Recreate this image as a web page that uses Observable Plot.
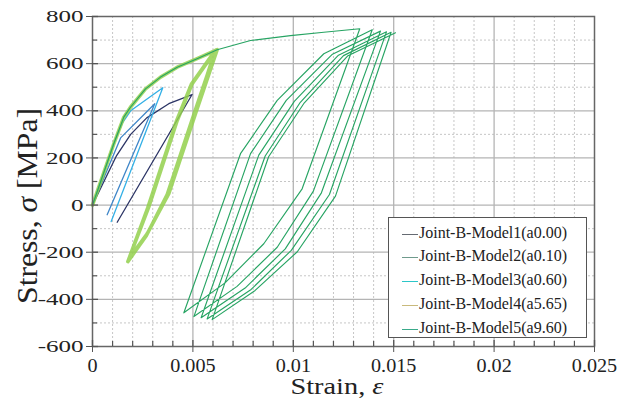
<!DOCTYPE html>
<html><head><meta charset="utf-8">
<script src="https://cdn.jsdelivr.net/npm/d3@7"></script>
<script src="https://cdn.jsdelivr.net/npm/@observablehq/plot@0.6"></script>
<style>
html,body{margin:0;padding:0;background:#fff;}
#wrap{position:relative;width:631px;height:405px;overflow:hidden;background:#fff;}
#legend{position:absolute;left:388px;top:217px;width:199px;height:121px;border:1px solid #555;background:#fff;box-sizing:border-box;font-family:"Liberation Serif","Times New Roman",serif;font-size:16px;color:#222;}
.row{position:absolute;left:0;height:20px;line-height:20px;white-space:nowrap;}
.sw{display:inline-block;width:16px;height:0;border-top:1.5px solid;vertical-align:middle;margin-left:13px;margin-right:1px;}
</style></head><body><div id="wrap"></div>
<script>
// ---------- data ----------
const seriesNames = ["Joint-B-Model1(a0.00)","Joint-B-Model2(a0.10)","Joint-B-Model3(a0.60)","Joint-B-Model4(a5.65)","Joint-B-Model5(a9.60)"];
const lineColors = ["#2c3566","#3f86c8","#33b0e6","#93d04c","#27a463"];
const legendColors = ["#656a72","#6f9a8c","#2cc6c8","#c9ba7c","#3aaa8a"];

const model1Strain = [0, 0.0012, 0.0019, 0.0027, 0.0038, 0.00496, 0.00123];
const model1Stress = [0, 210, 300, 370, 430, 469, -73];

const model2Strain = [0, 0.0014, 0.0031, 0.00073];
const model2Stress = [0, 285, 430, -41];

const model3Strain = [0, 0.00106, 0.0015, 0.0019, 0.0035, 0.00093];
const model3Stress = [0, 260, 350, 400, 498, -70];

const model4Strain = [0, 0.00106, 0.00156, 0.00189, 0.00264, 0.00339, 0.00422, 0.00521, 0.00621,
  0.00513, 0.0038, 0.00272, 0.00181, 0.0028, 0.00422, 0.00496, 0.00613,
  0.00505, 0.00372, 0.00268, 0.00176, 0.00275, 0.00418, 0.00492, 0.0061,
  0.00509, 0.00376, 0.0027, 0.00178, 0.00278, 0.0042, 0.00494, 0.00612];
const model4Stress = [0, 260, 373, 415, 493, 543, 585, 621, 659,
  388, 48, -122, -228, -9, 359, 514, 656,
  385, 45, -130, -240, -12, 356, 512, 655,
  386, 46, -126, -236, -10, 358, 513, 656];

const model5Strain = [0, 0.00106, 0.00156, 0.00189, 0.00264, 0.00339, 0.00422, 0.00521, 0.00621, 0.00787, 0.00986, 0.01152, 0.01331,
  0.01044, 0.00853, 0.0066, 0.00455, 0.00737, 0.0092, 0.01152, 0.01393,
  0.0110, 0.0092, 0.0072, 0.00505, 0.00787, 0.00965, 0.01195, 0.01434,
  0.0114, 0.0096, 0.0076, 0.00541, 0.00828, 0.01005, 0.01225, 0.01464,
  0.0118, 0.0099, 0.0079, 0.00571, 0.0086, 0.01035, 0.0125, 0.01487,
  0.0121, 0.0102, 0.0081, 0.00596, 0.00877, 0.01055, 0.0127, 0.01509];
const model5Stress = [0, 260, 373, 415, 493, 543, 585, 621, 659, 698, 719, 733, 748,
  69, -164, -330, -457, 218, 444, 642, 744,
  59, -179, -345, -473, 218, 444, 640, 738,
  52, -186, -352, -478, 212, 440, 636, 735,
  45, -192, -358, -483, 208, 436, 634, 733,
  38, -198, -362, -486, 205, 434, 632, 731];

const xMajor = [0, 0.005, 0.01, 0.015, 0.02, 0.025];
const xTickLabels = ["0", "0.005", "0.01", "0.015", "0.02", "0.025"];
const yMajor = [-600, -400, -200, 0, 200, 400, 600, 800];
const yTickLabels = ["-600", "-400", "-200", "0", "200", "400", "600", "800"];
const xMinor = [0.001,0.002,0.003,0.004,0.006,0.007,0.008,0.009,0.011,0.012,0.013,0.014,0.016,0.017,0.018,0.019,0.021,0.022,0.023,0.024];
const yMinor = [-500, -300, -100, 100, 300, 500, 700];
const xGrid = [0.005, 0.01, 0.015, 0.02];
const yGrid = [-400, -200, 0, 200, 400, 600];

// ---------- build ----------
const rows = (xs, ys) => xs.map((e, i) => ({e, s: ys[i]}));
const m1 = rows(model1Strain, model1Stress);
const m2 = rows(model2Strain, model2Stress);
const m3 = rows(model3Strain, model3Stress);
const m4 = rows(model4Strain, model4Stress);
const m5 = rows(model5Strain, model5Stress);

const W = 631, H = 405, ML = 92, MR = 37, MT = 16, MB = 59;
const FW = W - ML - MR, FH = H - MT - MB;
const serif = '"Liberation Serif","Times New Roman",serif';

const chart = Plot.plot({
  width: W, height: H,
  marginLeft: ML, marginRight: MR, marginTop: MT, marginBottom: MB,
  style: {fontFamily: serif, background: "#fff", color: "#222"},
  x: {domain: [0, 0.025]},
  y: {domain: [-600, 800]},
  marks: [
    Plot.ruleX(xMinor, {stroke: "#c6c6c6", strokeDasharray: "2,2", strokeWidth: 1}),
    Plot.ruleY(yMinor, {stroke: "#c6c6c6", strokeDasharray: "2,2", strokeWidth: 1}),
    Plot.ruleX(xGrid, {stroke: "#b4b4b4", strokeWidth: 1.3}),
    Plot.ruleY(yGrid, {stroke: "#b4b4b4", strokeWidth: 1.3}),
    Plot.line(m1, {x: "e", y: "s", stroke: lineColors[0], strokeWidth: 1.3}),
    Plot.line(m2, {x: "e", y: "s", stroke: lineColors[1], strokeWidth: 1.3}),
    Plot.line(m3, {x: "e", y: "s", stroke: lineColors[2], strokeWidth: 1.3}),
    Plot.line(m4, {x: "e", y: "s", stroke: lineColors[3], strokeWidth: 3.6, strokeOpacity: 0.85}),
    Plot.line(m5, {x: "e", y: "s", stroke: lineColors[4], strokeWidth: 1.15}),
    Plot.frame({stroke: "#666", strokeWidth: 1.5}),
    Plot.tickY(yMajor, {y: d => d, insetRight: FW - 6, stroke: "#555", strokeWidth: 1.3}),
    Plot.tickY(yMinor, {y: d => d, insetRight: FW - 5, stroke: "#555", strokeWidth: 1.2}),
    Plot.tickX(xMajor, {x: d => d, insetTop: FH - 6, stroke: "#555", strokeWidth: 1.3}),
    Plot.tickX(xMinor, {x: d => d, insetTop: FH - 5, stroke: "#555", strokeWidth: 1.2}),
    Plot.axisY(yMajor, {tickSize: 6, tickPadding: 3, fontSize: 17.5, stroke: "#555",
      tickFormat: d => yTickLabels[yMajor.indexOf(d)], label: null}),
    Plot.axisX(xMajor, {tickSize: 6, tickPadding: 7, fontSize: 18, stroke: "#555",
      tickFormat: d => xTickLabels[xMajor.indexOf(d)], label: null})
  ]
});

const wrap = document.getElementById("wrap");
wrap.appendChild(chart);
const svg = d3.select(chart);

// stretch tick labels horizontally like the reference
svg.selectAll('g[aria-label="y-axis tick label"] text').each(function() {
  const L = this.getComputedTextLength();
  this.setAttribute("textLength", L * 1.43);
  this.setAttribute("lengthAdjust", "spacingAndGlyphs");
  this.setAttribute("fill", "#222");
});
svg.selectAll('g[aria-label="x-axis tick label"] text').each(function() {
  const L = this.getComputedTextLength();
  this.setAttribute("textLength", L * 1.12);
  this.setAttribute("lengthAdjust", "spacingAndGlyphs");
  this.setAttribute("fill", "#222");
});

// axis titles
const yl = svg.append("text")
  .attr("transform", "translate(37,206) rotate(-90) scale(1,1.15)")
  .attr("text-anchor", "middle")
  .attr("font-family", serif).attr("font-size", 26).attr("fill", "#222");
yl.append("tspan").text("Stress, ");
yl.append("tspan").attr("font-style", "italic").text("σ");
yl.append("tspan").text(" [MPa]");
yl.attr("textLength", 196).attr("lengthAdjust", "spacingAndGlyphs");

const xl = svg.append("text")
  .attr("x", 337).attr("y", 394)
  .attr("text-anchor", "middle")
  .attr("font-family", serif).attr("font-size", 23).attr("fill", "#222");
xl.append("tspan").text("Strain, ");
xl.append("tspan").attr("font-style", "italic").text("ε");
xl.attr("textLength", 93).attr("lengthAdjust", "spacingAndGlyphs");

// legend
const leg = document.createElement("div");
leg.id = "legend";
const centers = [15, 38, 62, 86, 110];
seriesNames.forEach((n, i) => {
  const r = document.createElement("div");
  r.className = "row";
  r.style.top = (centers[i] - 10) + "px";
  const sw = document.createElement("span");
  sw.className = "sw";
  sw.style.borderTopColor = legendColors[i];
  r.appendChild(sw);
  r.appendChild(document.createTextNode(n));
  leg.appendChild(r);
});
wrap.appendChild(leg);
</script></body></html>
